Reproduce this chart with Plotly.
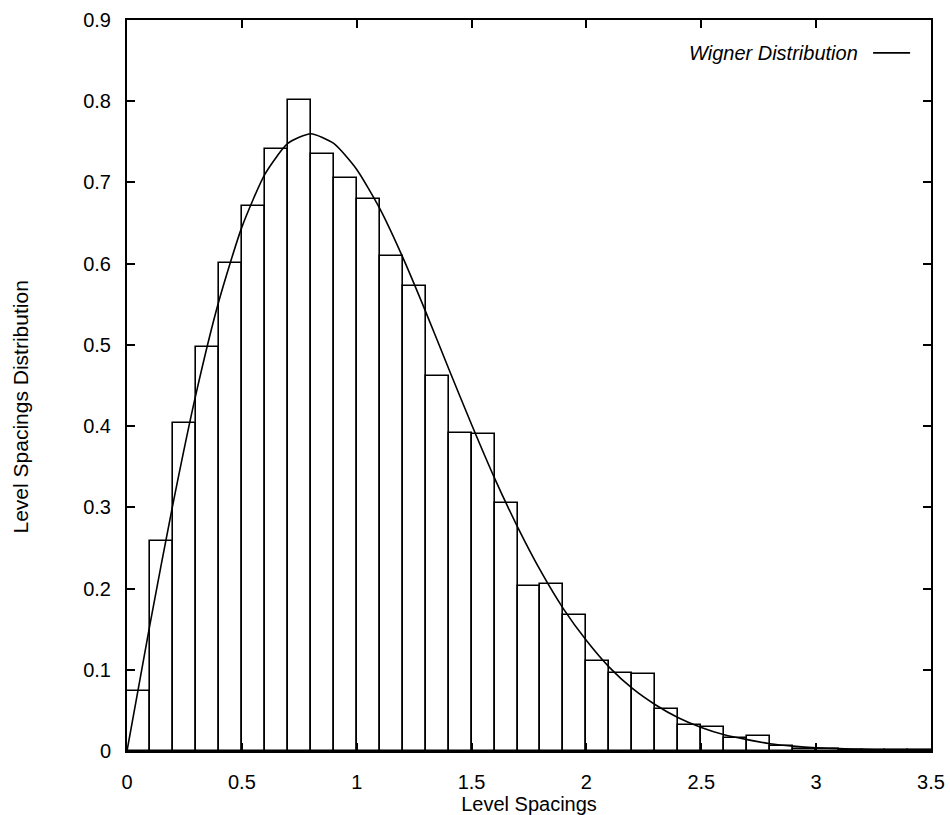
import plotly.graph_objects as go

# Histogram of level spacings (bin width 0.1, left edges 0.0 .. 3.4)
bin_left = [0.0, 0.1, 0.2, 0.3, 0.4, 0.5, 0.6, 0.7, 0.8, 0.9,
            1.0, 1.1, 1.2, 1.3, 1.4, 1.5, 1.6, 1.7, 1.8, 1.9,
            2.0, 2.1, 2.2, 2.3, 2.4, 2.5, 2.6, 2.7, 2.8, 2.9,
            3.0, 3.1, 3.2, 3.3, 3.4]
bin_width = 0.1
hist_values = [0.074, 0.258, 0.404, 0.498, 0.601, 0.671, 0.741, 0.802, 0.735, 0.705,
               0.680, 0.610, 0.572, 0.462, 0.391, 0.390, 0.305, 0.203, 0.205, 0.167,
               0.111, 0.096, 0.095, 0.052, 0.032, 0.029, 0.016, 0.019, 0.006, 0.003,
               0.003, 0.001, 0.001, 0.001, 0.001]

# Wigner distribution curve
curve_x = [0.0, 0.1, 0.2, 0.3, 0.4, 0.5, 0.6, 0.7, 0.8, 0.9,
           1.0, 1.1, 1.2, 1.3, 1.4, 1.5, 1.6, 1.7, 1.8, 1.9,
           2.0, 2.1, 2.2, 2.3, 2.4, 2.5, 2.6, 2.7, 2.8, 2.9,
           3.0, 3.1, 3.2, 3.3, 3.4, 3.5]
curve_y = [0.000, 0.156, 0.304, 0.439, 0.554, 0.645, 0.710, 0.748, 0.760, 0.748,
           0.716, 0.668, 0.608, 0.541, 0.471, 0.402, 0.336, 0.276, 0.222, 0.175,
           0.136, 0.103, 0.077, 0.057, 0.041, 0.029, 0.020, 0.014, 0.009, 0.006,
           0.004, 0.003, 0.002, 0.001, 0.001, 0.000]

x_ticks = [0, 0.5, 1, 1.5, 2, 2.5, 3, 3.5]
x_ticktext = ["0", "0.5", "1", "1.5", "2", "2.5", "3", "3.5"]
y_ticks = [0, 0.1, 0.2, 0.3, 0.4, 0.5, 0.6, 0.7, 0.8, 0.9]
y_ticktext = ["0", "0.1", "0.2", "0.3", "0.4", "0.5", "0.6", "0.7", "0.8", "0.9"]

legend_label = "Wigner Distribution"
x_title = "Level Spacings"
y_title = "Level Spacings Distribution"

FONT = "Liberation Sans, Arial, Helvetica, sans-serif"

fig = go.Figure()
fig.add_trace(go.Bar(
    x=bin_left, y=hist_values, width=bin_width, offset=0,
    marker=dict(color="white", line=dict(color="black", width=1.6)),
    showlegend=False, hoverinfo="x+y",
))
fig.add_trace(go.Scatter(
    x=curve_x, y=curve_y, mode="lines", name=legend_label,
    line=dict(color="black", width=1.6, shape="spline", smoothing=0.6),
    showlegend=False,
))

axis_common = dict(
    showline=True, linecolor="black", linewidth=2, mirror="ticks",
    ticks="inside", ticklen=8, tickwidth=1.5, tickcolor="black",
    showgrid=False, zeroline=False,
    tickfont=dict(family=FONT, size=20, color="black"),
)

fig.update_xaxes(range=[0, 3.5], tickvals=x_ticks, ticktext=x_ticktext,
                 ticklabelstandoff=12,
                 title=dict(text=x_title, font=dict(family=FONT, size=20, color="black"),
                            standoff=2),
                 **axis_common)
fig.update_yaxes(range=[0, 0.9], tickvals=y_ticks, ticktext=y_ticktext,
                 ticklabelstandoff=10, **axis_common)

# y-axis title (placed slightly below the axis centre, as in the original)
fig.add_annotation(x=-0.133, y=0.47, xref="paper", yref="paper",
                   xanchor="center", yanchor="middle", showarrow=False,
                   textangle=-90, text=y_title,
                   font=dict(family=FONT, size=21, color="black"))

# legend entry drawn like the original: italic label, line sample on the right
fig.add_annotation(x=0.912, y=0.955, xref="paper", yref="paper",
                   xanchor="right", yanchor="middle", showarrow=False,
                   text="<i>" + legend_label + "</i>",
                   font=dict(family=FONT, size=20, color="black"))
fig.add_shape(type="line", xref="paper", yref="paper",
              x0=0.928, x1=0.974, y0=0.955, y1=0.955,
              line=dict(color="black", width=1.6))

fig.update_layout(
    width=950, height=815,
    margin=dict(l=127, r=19, t=20, b=64, autoexpand=False),
    paper_bgcolor="white", plot_bgcolor="white",
    bargap=0,
    font=dict(family=FONT, size=20, color="black"),
)

fig.write_html("out.html")
